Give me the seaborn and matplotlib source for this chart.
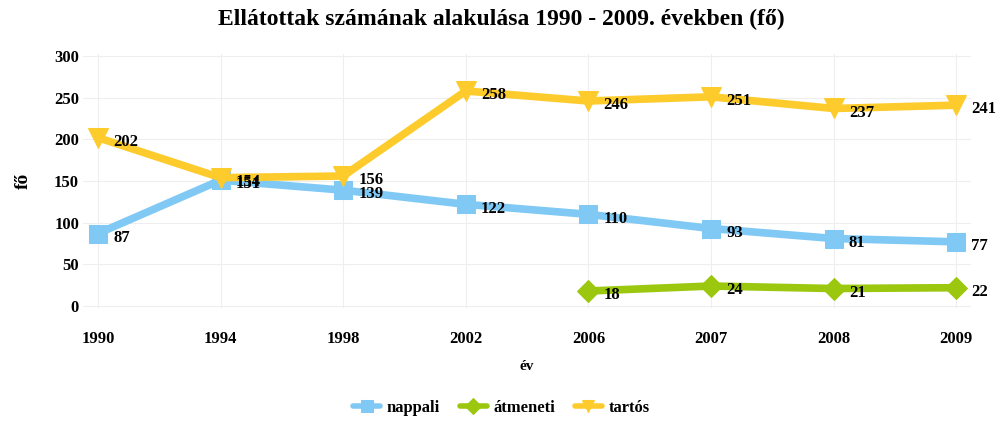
import numpy as np
import pandas as pd
import matplotlib
matplotlib.use("Agg")
import matplotlib.pyplot as plt
import seaborn as sns

years = ["1990", "1994", "1998", "2002", "2006", "2007", "2008", "2009"]
nappali = [87, 151, 139, 122, 110, 93, 81, 77]
atmeneti = [np.nan, np.nan, np.nan, np.nan, 18, 24, 21, 22]
tartos = [202, 154, 156, 258, 246, 251, 237, 241]
series_names = ["nappali", "átmeneti", "tartós"]
y_ticks = [0, 50, 100, 150, 200, 250, 300]

colors = {"nappali": "#7FC9F4", "átmeneti": "#9BC80E", "tartós": "#FDCB2C"}
markers = {"nappali": "s", "átmeneti": "D", "tartós": "v"}
msizes = {"nappali": 13, "átmeneti": 11, "tartós": 14}

sns.set_theme(style="white")
plt.rcParams["font.family"] = ["Liberation Serif", "DejaVu Serif"]
plt.rcParams["font.weight"] = "bold"
for key in ("text.color", "axes.labelcolor", "xtick.color", "ytick.color"):
    plt.rcParams[key] = "#000000"

rows = []
for name, vals in zip(series_names, [nappali, atmeneti, tartos]):
    for i, v in enumerate(vals):
        rows.append({"pos": i, "year": years[i], "series": name, "value": v})
df = pd.DataFrame(rows)

fig = plt.figure(figsize=(10.03, 4.23), dpi=100)
ax = fig.add_axes([0.083, 0.2726, 0.885, 0.599])

for name in series_names:
    sub = df[(df["series"] == name)].dropna()
    sns.lineplot(data=sub, x="pos", y="value", ax=ax, color=colors[name],
                 linewidth=5.5, marker=markers[name], markersize=msizes[name],
                 markeredgecolor=colors[name], markerfacecolor=colors[name],
                 label=name, legend=False, zorder=3)
    for _, r in sub.iterrows():
        ax.annotate(f"{int(r['value'])}", (r["pos"], r["value"]),
                    xytext=(11, -3), textcoords="offset points",
                    ha="left", va="center", fontsize=12, fontweight="bold",
                    color="#000000", zorder=5)

ax.set_xlim(-0.12, 7.12)
ax.set_ylim(-2, 302)
ax.set_xticks(range(len(years)))
ax.set_xticklabels(years, fontsize=12, fontweight="bold")
ax.set_yticks(y_ticks)
ax.set_yticklabels([str(t) for t in y_ticks], fontsize=12, fontweight="bold")
ax.grid(True, color="#EEEEEE", linewidth=0.8)
ax.set_axisbelow(True)
for s in ax.spines.values():
    s.set_visible(False)
ax.tick_params(axis="x", length=0, pad=17)
ax.tick_params(axis="y", length=0, pad=3)

ax.set_xlabel("év", fontsize=11, fontweight="bold", labelpad=9)
ax.set_ylabel("fő", fontsize=14, fontweight="bold", labelpad=16)
fig.suptitle("Ellátottak számának alakulása 1990 - 2009. években (fő)",
             x=0.5, y=0.978, fontsize=17, fontweight="bold")

handles, labels = ax.get_legend_handles_labels()
leg = fig.legend(handles, labels, loc="center", bbox_to_anchor=(0.5, 0.035),
                 ncol=3, frameon=False, fontsize=12, handlelength=1.6,
                 columnspacing=1.2, handletextpad=0.4)
for h in leg.get_lines():
    h.set_linewidth(4)
    h.set_markersize(8)

fig.savefig("out.png", dpi=100)
